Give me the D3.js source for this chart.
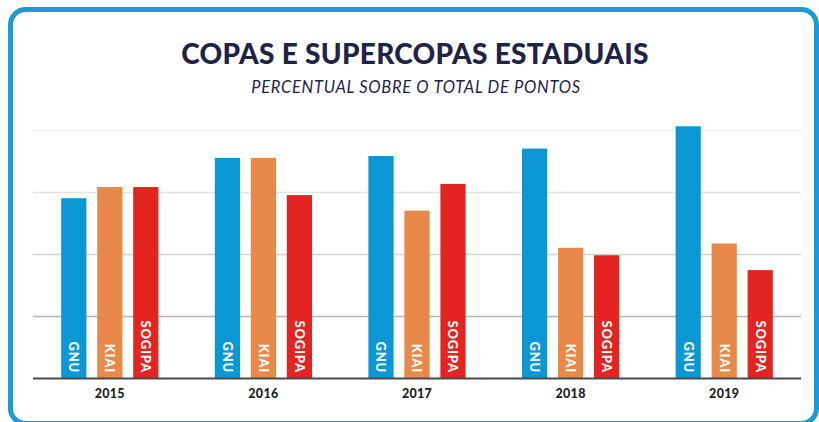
<!DOCTYPE html>
<html>
<head>
<meta charset="utf-8">
<script src="https://cdn.jsdelivr.net/npm/d3@7"></script>
<style>
  body { margin: 0; background: #fff; }
  svg { display: block; }
</style>
</head>
<body>
<svg id="chart"></svg>
<script>
// Data (percent of total points)
var years = ['2015', '2016', '2017', '2018', '2019'];
var clubs = ['GNU', 'KIAI', 'SOGIPA'];
var gnu = [29.0, 35.5, 35.8, 37.0, 40.6];
var kiai = [30.8, 35.5, 27.0, 21.0, 21.7];
var sogipa = [30.8, 29.5, 31.3, 19.8, 17.4];
var gridTicks = [10, 20, 30, 40];

var colors = { GNU: '#0b97d4', KIAI: '#e8894a', SOGIPA: '#e32420' };

var data = years.map(function(y, i) {
    return { year: y, values: [
        { club: 'GNU', value: gnu[i] },
        { club: 'KIAI', value: kiai[i] },
        { club: 'SOGIPA', value: sogipa[i] }
    ] };
});

var svgWidth = 819, svgHeight = 422;
var margin = { top: 130, right: 18, bottom: 44, left: 33 };
var width = svgWidth - margin.left - margin.right;
var height = svgHeight - margin.top - margin.bottom;

var svg = d3.select('#chart')
    .attr('width', svgWidth)
    .attr('height', svgHeight);

// Rounded frame
svg.append('rect')
    .attr('x', 10.5).attr('y', 9.5)
    .attr('width', 806).attr('height', 414)
    .attr('rx', 15)
    .attr('fill', 'none')
    .attr('stroke', '#1a9ad6')
    .attr('stroke-width', 5);

// Titles
svg.append('text')
    .attr('x', 415).attr('y', 64)
    .attr('text-anchor', 'middle')
    .style('font-family', 'Lato, sans-serif')
    .style('font-weight', 900)
    .style('font-size', '28px')
    .style('letter-spacing', '0.3px')
    .attr('fill', '#1f2347')
    .text('COPAS E SUPERCOPAS ESTADUAIS');

svg.append('text')
    .attr('x', 416).attr('y', 93)
    .attr('text-anchor', 'middle')
    .style('font-family', 'Lato, sans-serif')
    .style('font-style', 'italic')
    .style('font-size', '16.5px')
    .style('letter-spacing', '0.7px')
    .attr('fill', '#1f2347')
    .text('PERCENTUAL SOBRE O TOTAL DE PONTOS');

var g = svg.append('g')
    .attr('transform', 'translate(' + margin.left + ',' + margin.top + ')');

var x0 = d3.scaleBand().domain(years).range([0, width]).padding(0);
var x1 = d3.scaleBand().domain(clubs).range([0, 108]).paddingInner(0.3).paddingOuter(0.15);
var y = d3.scaleLinear().domain([0, 40]).range([height, 0]);

// Gridlines, getting darker toward the bottom
var gridColors = ['#b5b5b5', '#d2d2d2', '#e3e3e3', '#efefef'];
g.selectAll('.grid')
    .data(gridTicks)
  .enter().append('line')
    .attr('class', 'grid')
    .attr('x1', 0).attr('x2', width)
    .attr('y1', function(d) { return Math.round(y(d)) + 0.5; })
    .attr('y2', function(d) { return Math.round(y(d)) + 0.5; })
    .attr('stroke', function(d, i) { return gridColors[i]; })
    .attr('stroke-width', 1.5);

var groups = g.selectAll('.group')
    .data(data)
  .enter().append('g')
    .attr('class', 'group')
    .attr('transform', function(d) {
        return 'translate(' + (x0(d.year) + x0.bandwidth() / 2 - 54) + ',0)';
    });

groups.selectAll('rect')
    .data(function(d) { return d.values; })
  .enter().append('rect')
    .attr('x', function(d) { return x1(d.club); })
    .attr('y', function(d) { return y(d.value); })
    .attr('width', x1.bandwidth())
    .attr('height', function(d) { return height - y(d.value); })
    .attr('fill', function(d) { return colors[d.club]; });

// Club names written down inside the bars
groups.selectAll('.lbl')
    .data(function(d) { return d.values; })
  .enter().append('text')
    .attr('class', 'lbl')
    .attr('transform', function(d) {
        return 'translate(' + (x1(d.club) + x1.bandwidth() / 2) + ',' + (height - 5) + ') rotate(90)';
    })
    .attr('text-anchor', 'end')
    .attr('dy', '0.36em')
    .style('font-family', 'Lato, sans-serif')
    .style('font-weight', 900)
    .style('font-size', '13px')
    .style('letter-spacing', '0.8px')
    .attr('fill', '#fff')
    .text(function(d) { return d.club; });

// Baseline
g.append('line')
    .attr('x1', 0).attr('x2', width)
    .attr('y1', height + 0.5).attr('y2', height + 0.5)
    .attr('stroke', '#4a4a4a')
    .attr('stroke-width', 2);

// Year labels
g.selectAll('.year')
    .data(years)
  .enter().append('text')
    .attr('class', 'year')
    .attr('x', function(d) { return x0(d) + x0.bandwidth() / 2; })
    .attr('y', height + 19.5)
    .attr('text-anchor', 'middle')
    .style('font-family', 'Lato, sans-serif')
    .style('font-weight', 900)
    .style('font-size', '12.5px')
    .style('letter-spacing', '0.3px')
    .attr('fill', '#222')
    .text(function(d) { return d; });
</script>
</body>
</html>
